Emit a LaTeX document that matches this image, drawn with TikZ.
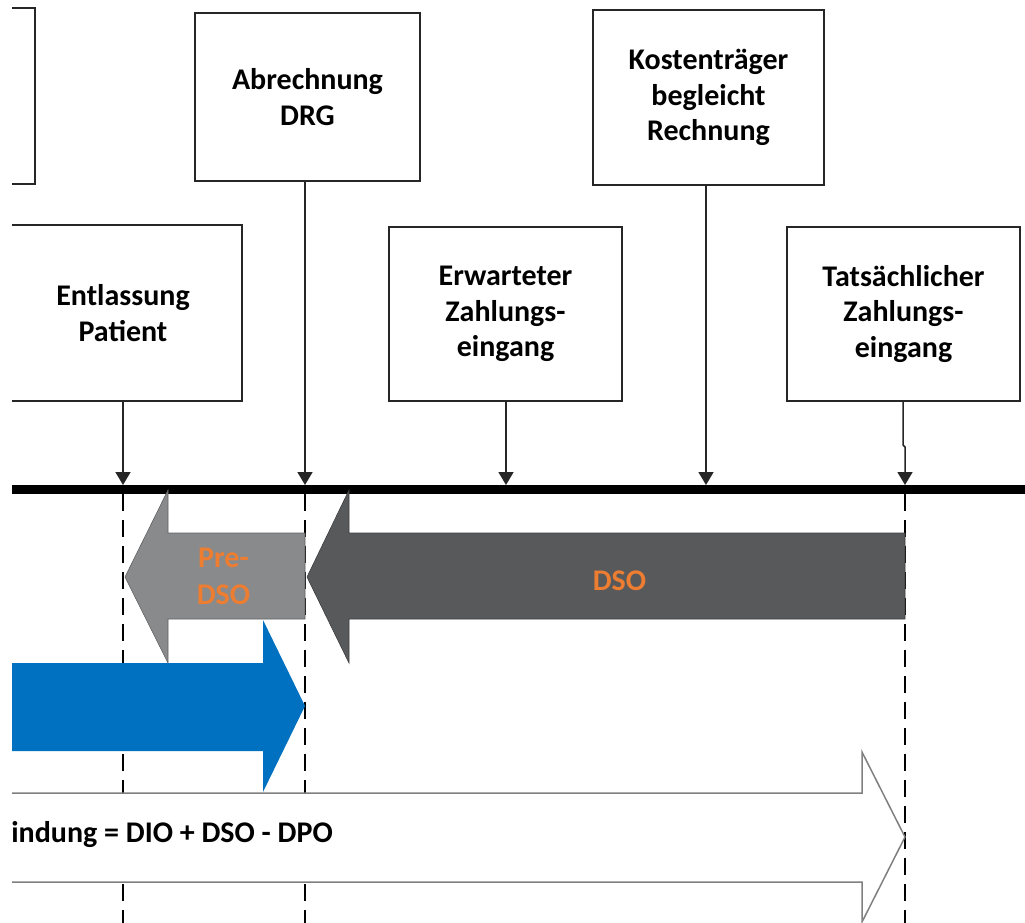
\documentclass[tikz,border=0pt]{standalone}
\usepackage{fontspec}
\setmainfont{Carlito}
\usetikzlibrary{arrows.meta}
\definecolor{boxline}{HTML}{262626}
\definecolor{predso}{HTML}{898A8C}
\definecolor{dsogray}{HTML}{58595B}
\definecolor{bluearr}{HTML}{0070C0}
\definecolor{orangetxt}{HTML}{ED7D31}
\definecolor{whiteline}{HTML}{808080}
\tikzset{
  evbox/.style={draw=boxline, line width=1.5pt, fill=white, inner sep=0pt, align=center,
    font=\fontsize{30}{35.5}\selectfont\bfseries, text=black},
  tickarrow/.style={draw=boxline, line width=1.5pt, -{Triangle[length=13pt,width=15pt]}},
  dashline/.style={draw=black, line width=1.6pt, dash pattern=on 17pt off 9pt},
  lbl/.style={font=\fontsize{30}{37}\selectfont\bfseries, align=center, inner sep=0pt},
}
\begin{document}
\begin{tikzpicture}[x=1pt,y=-1pt]
\useasboundingbox (0,0) rectangle (1025,922);
\begin{scope}
\clip (12,-2) rectangle (1026,924);
% boxes
\node[evbox, minimum width=200pt, minimum height=176pt] (tl) at (-65,96) {};
\node[evbox, minimum width=225pt, minimum height=168pt] (abr) at (307.5,97) {Abrechnung\\DRG};
\node[evbox, minimum width=231pt, minimum height=175pt] (kost) at (708.5,97.5) {Kostenträger\\begleicht\\Rechnung};
\node[evbox, minimum width=238pt, minimum height=176pt] (ent) at (123,313) {Entlassung\\Patient};
\node[evbox, minimum width=233pt, minimum height=174pt] (erw) at (505.5,314) {Erwarteter\\Zahlungs-\\eingang};
\node[evbox, minimum width=233pt, minimum height=174pt] (tat) at (903.5,314) {Tatsächlicher\\Zahlungs-\\eingang};
% timeline points
\coordinate (t1) at (123,485);
\coordinate (t2) at (305,485);
\coordinate (t3) at (506,485);
\coordinate (t4) at (706,485);
\coordinate (t5) at (905,485);
\coordinate (tlL) at (0,489.5);
\coordinate (tlR) at (1026,489.5);
\coordinate (j5) at (903,445);
\coordinate (k5) at (905,447);
% dashed guides
\coordinate (d1a) at (123,494); \coordinate (d1b) at (123,924);
\coordinate (d2a) at (305,494); \coordinate (d2b) at (305,924);
\coordinate (d5a) at (905,494); \coordinate (d5b) at (905,924);
\draw[dashline] (d1a) -- (d1b);
\draw[dashline] (d2a) -- (d2b);
\draw[dashline] (d5a) -- (d5b);
% connectors
\draw[tickarrow] (ent.south -| t1) -- (t1);
\draw[tickarrow] (abr.south -| t2) -- (t2);
\draw[tickarrow] (erw.south -| t3) -- (t3);
\draw[tickarrow] (kost.south -| t4) -- (t4);
\draw[tickarrow] (tat.south -| j5) -- (j5) -- (k5) -- (t5);
% timeline
\draw[line width=9pt, black] (tlL) -- (tlR);
% Pre-DSO arrow
\draw[fill=predso, draw=predso!70!black, line width=0.6pt]
  (305,533) -- (168,533) -- (168,490) -- (125,577) -- (168,663) -- (168,619) -- (305,619) -- cycle;
\node[lbl, text=orangetxt] (pre) at (223.5,576) {Pre-\\DSO};
% DSO arrow
\draw[fill=dsogray, draw=dsogray!70!black, line width=0.6pt]
  (905,533) -- (349,533) -- (349,490) -- (307,577) -- (349,663) -- (349,619) -- (905,619) -- cycle;
\node[lbl, text=orangetxt] (dso) at (619.5,581) {DSO};
% blue arrow
\fill[bluearr] (-5,663) -- (263,663) -- (263,620) -- (305,706) -- (263,792) -- (263,751) -- (-5,751) -- cycle;
% white arrow
\draw[fill=white, draw=whiteline, line width=1.5pt]
  (-5,793) -- (862,793) -- (862,752) -- (905,837) -- (862,922) -- (862,882) -- (-5,882) -- cycle;
\node[lbl, anchor=base east, text=black] (formel) at (333,842) {indung = DIO + DSO - DPO};
\end{scope}
\end{tikzpicture}
\end{document}
